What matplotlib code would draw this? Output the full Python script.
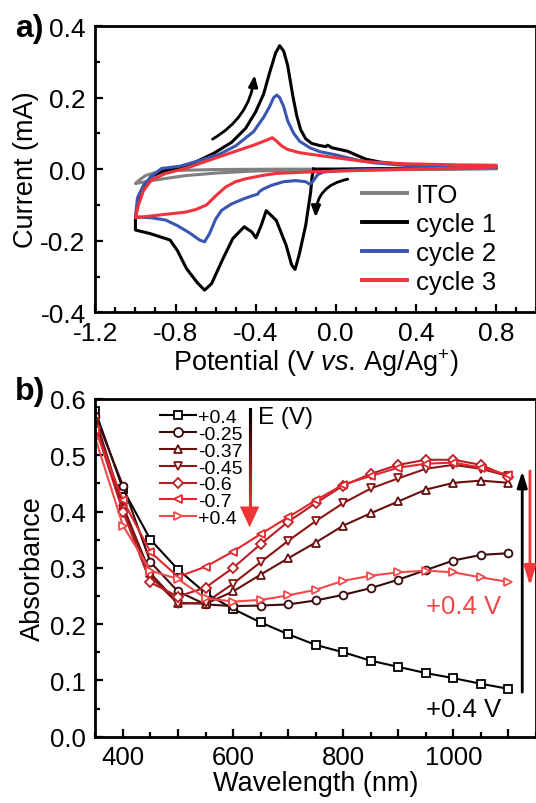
import matplotlib
matplotlib.use('Agg')
import matplotlib.pyplot as plt
import numpy as np
from matplotlib.collections import LineCollection
from matplotlib.patches import FancyArrowPatch
from matplotlib.ticker import MultipleLocator, FixedLocator

plt.rcParams['font.family'] = ['Liberation Sans', 'DejaVu Sans']
plt.rcParams['axes.unicode_minus'] = False
plt.rcParams['mathtext.fontset'] = 'custom'
plt.rcParams['mathtext.rm'] = 'Liberation Sans'
plt.rcParams['mathtext.it'] = 'Liberation Sans:italic'

# ---- panel a: cyclic voltammetry (V, mA) ----
ito_v = [0.8, 0.4, 0.0, -0.4, -0.6, -0.75, -0.85, -0.93, -1.0, -0.98, -0.95, -0.9, -0.83, -0.6, -0.3, 0.0, 0.4, 0.8]
ito_i = [0.001, -0.001, -0.002, -0.005, -0.011, -0.018, -0.026, -0.033, -0.040, -0.030, -0.018, -0.009, -0.004, -0.001, 0.0, 0.0, 0.001, 0.002]

c1_v = [-0.11, -0.118, -0.125, -0.15, -0.183, -0.203, -0.22, -0.248, -0.297, -0.347, -0.372, -0.398, -0.42,
        -0.457, -0.514, -0.563, -0.62, -0.655, -0.69, -0.745, -0.79, -0.827, -0.927, -1.0, -1.0,
        -0.985, -0.96, -0.92, -0.86, -0.78, -0.70, -0.61, -0.52, -0.45, -0.40, -0.36, -0.33, -0.30, -0.28,
        -0.26, -0.24, -0.215, -0.195, -0.175, -0.15, -0.12, -0.08, -0.05, -0.04, -0.02, 0.02, 0.06, 0.10,
        0.15, 0.22, 0.35, 0.55, 0.8, 0.4, 0.0, -0.11]
c1_i = [0.0, -0.02, -0.063, -0.157, -0.24, -0.28, -0.268, -0.212, -0.143, -0.116, -0.157, -0.192, -0.175,
        -0.161, -0.194, -0.25, -0.32, -0.338, -0.318, -0.278, -0.228, -0.198, -0.18, -0.17, -0.135,
        -0.09, -0.05, -0.02, -0.005, 0.005, 0.02, 0.044, 0.075, 0.114, 0.16, 0.21, 0.27, 0.325, 0.345,
        0.33, 0.29, 0.207, 0.15, 0.11, 0.085, 0.072, 0.066, 0.063, 0.067, 0.06, 0.055, 0.05, 0.04,
        0.028, 0.02, 0.012, 0.008, 0.006, 0.003, 0.0, 0.0]

c2_v = [0.8, 0.4, 0.1, 0.0, -0.06, -0.09, -0.115, -0.13, -0.15, -0.2, -0.26, -0.32, -0.36, -0.38, -0.39,
        -0.42, -0.46, -0.52, -0.57, -0.60, -0.63, -0.655, -0.68, -0.73, -0.79, -0.85, -0.92, -1.0,
        -0.99, -0.96, -0.92, -0.87, -0.78, -0.68, -0.58, -0.5, -0.41, -0.36, -0.33, -0.31, -0.294, -0.28,
        -0.26, -0.24, -0.21, -0.18, -0.13, -0.08, 0.0, 0.05, 0.12, 0.2, 0.35, 0.55, 0.8]
c2_i = [0.004, 0.002, -0.002, -0.005, -0.008, -0.015, -0.035, -0.042, -0.035, -0.032, -0.035, -0.045, -0.055, -0.062, -0.07,
        -0.075, -0.083, -0.097, -0.115, -0.14, -0.18, -0.203, -0.198, -0.178, -0.158, -0.142, -0.136, -0.133,
        -0.08, -0.045, -0.02, 0.002, 0.008, 0.024, 0.042, 0.065, 0.105, 0.145, 0.175, 0.2, 0.207, 0.2,
        0.175, 0.135, 0.1, 0.078, 0.06, 0.049, 0.04, 0.033, 0.024, 0.017, 0.011, 0.007, 0.005]

c3_v = [0.8, 0.4, 0.1, -0.1, -0.3, -0.37, -0.45, -0.5, -0.55, -0.6, -0.645, -0.7, -0.75, -0.88, -1.0,
        -0.985, -0.96, -0.92, -0.85, -0.75, -0.58, -0.41, -0.35, -0.317, -0.295, -0.27, -0.24, -0.18,
        -0.08, 0.0, 0.15, 0.35, 0.6, 0.8]
c3_i = [0.006, 0.0, -0.004, -0.007, -0.012, -0.018, -0.027, -0.035, -0.05, -0.075, -0.10, -0.113, -0.12, -0.128, -0.136,
        -0.1, -0.06, -0.03, -0.012, 0.002, 0.035, 0.067, 0.08, 0.088, 0.078, 0.065, 0.055, 0.046,
        0.038, 0.032, 0.021, 0.015, 0.012, 0.011]

# ---- panel b: spectroelectrochemistry ----
wavelength = [350, 400, 450, 500, 550, 600, 650, 700, 750, 800, 850, 900, 950, 1000, 1050, 1100]
abs_p04 = [0.578, 0.44, 0.350, 0.297, 0.255, 0.227, 0.203, 0.182, 0.163, 0.150, 0.135, 0.124, 0.113, 0.104, 0.094, 0.085]
abs_m025 = [0.57, 0.446, 0.31, 0.258, 0.235, 0.232, 0.233, 0.235, 0.242, 0.252, 0.264, 0.279, 0.296, 0.313, 0.323, 0.326]
abs_m037 = [0.565, 0.41, 0.29, 0.238, 0.236, 0.258, 0.288, 0.317, 0.345, 0.375, 0.397, 0.418, 0.439, 0.451, 0.455, 0.451]
abs_m045 = [0.56, 0.405, 0.285, 0.236, 0.238, 0.272, 0.31, 0.348, 0.383, 0.415, 0.441, 0.459, 0.476, 0.483, 0.476, 0.463]
abs_m06 = [0.55, 0.40, 0.274, 0.249, 0.265, 0.300, 0.342, 0.382, 0.415, 0.446, 0.467, 0.483, 0.492, 0.492, 0.483, 0.462]
abs_m07 = [0.545, 0.42, 0.328, 0.284, 0.302, 0.329, 0.36, 0.39, 0.42, 0.448, 0.463, 0.478, 0.485, 0.487, 0.478, 0.465]
abs_p04r = [0.53, 0.375, 0.295, 0.28, 0.246, 0.24, 0.243, 0.251, 0.261, 0.277, 0.286, 0.292, 0.295, 0.292, 0.283, 0.275]

series_b = [abs_p04, abs_m025, abs_m037, abs_m045, abs_m06, abs_m07, abs_p04r]
labels_b = ['+0.4', '-0.25', '-0.37', '-0.45', '-0.6', '-0.7', '+0.4']
markers_b = ['s', 'o', '^', 'v', 'D', '<', '>']
colors_b = ['#000000', '#3c0a0a', '#661010', '#8c1616', '#b81e24', '#e0282e', '#f04a4a']

fig = plt.figure(figsize=(5.36, 8.04), dpi=100)

# ================= a) =================
ax1 = fig.add_axes([0.178, 0.6103, 0.822, 0.3561])
ax1.plot(ito_v, ito_i, color='#808080', lw=2.2, label='ITO')
ax1.plot(c1_v, c1_i, color='black', lw=2.2, label='cycle 1')
ax1.plot(c2_v, c2_i, color='#3a56b0', lw=2.2, label='cycle 2')
ax1.plot(c3_v, c3_i, color='#f0323c', lw=2.2, label='cycle 3')

ax1.set_xlim(-1.2, 1.0)
ax1.set_ylim(-0.4, 0.4)
ax1.xaxis.set_major_locator(FixedLocator([-1.2, -0.8, -0.4, 0.0, 0.4, 0.8]))
ax1.set_xticklabels(['-1.2', '-0.8', '-0.4', '0.0', '0.4', '0.8'])
ax1.xaxis.set_minor_locator(MultipleLocator(0.1))
ax1.yaxis.set_major_locator(FixedLocator([-0.4, -0.2, 0.0, 0.2, 0.4]))
ax1.set_yticklabels(['-0.4', '-0.2', '0.0', '0.2', '0.4'])
ax1.yaxis.set_minor_locator(MultipleLocator(0.1))
ax1.set_xlabel(r'Potential (V $\mathit{vs.}\,$Ag/Ag$^{+}$)', fontsize=19.5, labelpad=1)
ax1.set_ylabel('Current (mA)', fontsize=19.5, labelpad=1)

arr1 = FancyArrowPatch((-0.615, 0.084), (-0.405, 0.263), connectionstyle='arc3,rad=0.25',
                       arrowstyle='-|>,head_length=0.55,head_width=0.22', mutation_scale=12,
                       color='black', lw=2, shrinkA=0, shrinkB=0)
ax1.add_patch(arr1)
arr2 = FancyArrowPatch((0.06, -0.028), (-0.10, -0.135), connectionstyle='arc3,rad=0.4',
                       arrowstyle='-|>,head_length=0.55,head_width=0.22', mutation_scale=12,
                       color='black', lw=2, shrinkA=0, shrinkB=0)
ax1.add_patch(arr2)

ax1.legend(loc='upper left', bbox_to_anchor=(0.605, 0.452), frameon=False, fontsize=18.5,
           handlelength=1.75, handletextpad=0.35, labelspacing=0.2, borderaxespad=0, borderpad=0)
for ln in ax1.get_legend().get_lines():
    ln.set_linewidth(2.8)

# ================= b) =================
ax2 = fig.add_axes([0.178, 0.0825, 0.822, 0.42])
for vals, lab, mk, col in zip(series_b, labels_b, markers_b, colors_b):
    ms = 4.8 if mk == 'D' else 5.6
    ax2.plot(wavelength, vals, color=col, lw=1.5, marker=mk, ms=ms, mfc='white', mec=col, mew=1.3, label=lab)

ax2.set_xlim(350, 1150)
ax2.set_ylim(0.0, 0.6)
ax2.xaxis.set_major_locator(MultipleLocator(100))
ax2.xaxis.set_major_formatter(plt.FuncFormatter(lambda v, p: f'{v:.0f}' if int(round(v)) % 200 == 0 else ''))
ax2.xaxis.set_minor_locator(MultipleLocator(50))
ax2.yaxis.set_major_locator(MultipleLocator(0.1))
ax2.yaxis.set_major_formatter(plt.FuncFormatter(lambda v, p: f'{v:.1f}'))
ax2.yaxis.set_minor_locator(MultipleLocator(0.05))
ax2.set_xlabel('Wavelength (nm)', fontsize=19.5, labelpad=1)
ax2.set_ylabel('Absorbance', fontsize=19.5, labelpad=3)

ax2.legend(loc='upper left', bbox_to_anchor=(0.146, 0.972), frameon=False, fontsize=14,
           handlelength=1.85, handletextpad=0.12, labelspacing=-0.04, borderaxespad=0, borderpad=0,
           numpoints=1, markerscale=1.15)

# gradient arrow for E (V)
gy = np.linspace(0.582, 0.40, 40)
segs = [[(630, gy[k]), (630, gy[k + 1])] for k in range(len(gy) - 1)]
gcols = [(0.94 * t, 0.2 * t, 0.2 * t) for t in np.linspace(0, 1, len(segs))]
ax2.add_collection(LineCollection(segs, colors=gcols, linewidths=2.2, capstyle='projecting'))
ax2.annotate('', xy=(630, 0.372), xytext=(630, 0.405),
             arrowprops=dict(arrowstyle='-|>,head_length=0.6,head_width=0.28', mutation_scale=25,
                             color='#ee3535', lw=0, shrinkA=0, shrinkB=0))
ax2.text(645, 0.568, 'E (V)', fontsize=17.5, va='center', ha='left')

# right side arrows
ax2.annotate('', xy=(1125, 0.472), xytext=(1125, 0.079),
             arrowprops=dict(arrowstyle='-|>,head_length=0.8,head_width=0.25', mutation_scale=12,
                             color='black', lw=2, shrinkA=0, shrinkB=0))
ax2.annotate('', xy=(1139, 0.268), xytext=(1139, 0.472),
             arrowprops=dict(arrowstyle='-|>,head_length=1.0,head_width=0.3', mutation_scale=12,
                             color='#f03a3a', lw=2, shrinkA=0, shrinkB=0))
ax2.text(1019, 0.233, '+0.4 V', fontsize=18.5, color='#f04848', ha='center', va='center')
ax2.text(1019, 0.049, '+0.4 V', fontsize=18.5, color='black', ha='center', va='center')

for ax, tsize in ((ax1, 19), (ax2, 18.5)):
    for s in ax.spines.values():
        s.set_linewidth(2.0)
    ax.tick_params(which='both', direction='in', top=False, right=False, width=1.6, labelsize=tsize)
    ax.tick_params(which='major', length=6)
    ax.tick_params(which='minor', length=3.5)
    ax.tick_params(axis='x', which='major', pad=6)
    ax.tick_params(axis='y', which='major', pad=7)

fig.text(0.028, 1 - 36.7 / 804, 'a)', fontsize=23, fontweight='bold', va='baseline')
fig.text(0.028, 1 - 400.0 / 804, 'b)', fontsize=23, fontweight='bold', va='baseline')

fig.savefig('out.png', dpi=100)
